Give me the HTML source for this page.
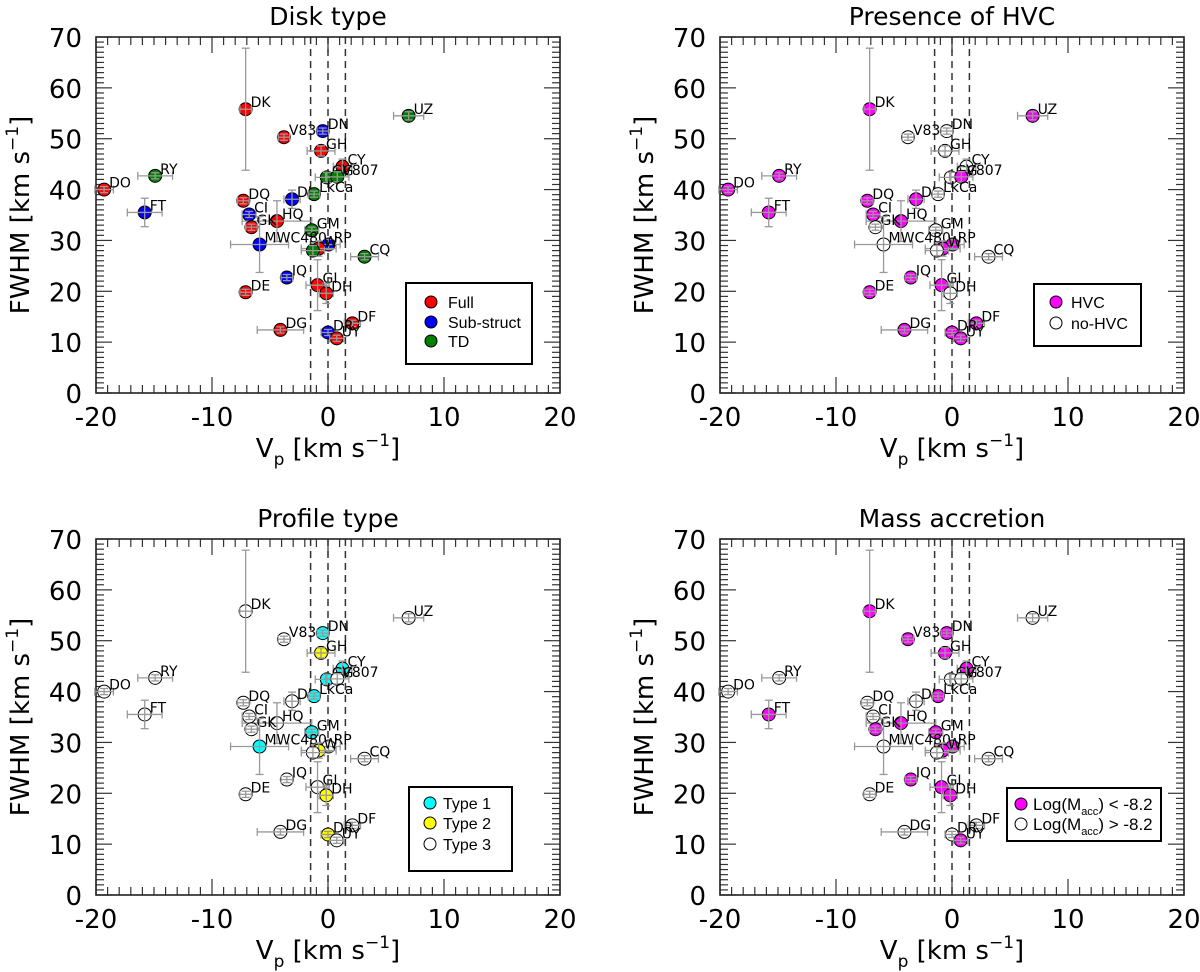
<!DOCTYPE html>
<html><head><meta charset="utf-8"><style>
html,body{margin:0;padding:0;background:#fff;}
svg{display:block;font-family:"DejaVu Sans","Liberation Sans",sans-serif;}
</style></head><body>
<svg id="fig" width="1200" height="972" viewBox="0 0 1200 972" xmlns="http://www.w3.org/2000/svg"></svg>
<script>
const names = ["DK","V836","DN","GH","CY","GG","V807","DO","RY","DQ","DL","LkCa","FT","CI","HQ","GK","GM","MWC480","RP","RW","IP","CQ","IQ","GI","DH","DE","DG","DF","DR","UY","UZ"];
const vp   = [-7.1,-3.8,-0.45,-0.6,1.25,-0.1,0.8,-19.3,-14.9,-7.3,-3.1,-1.2,-15.8,-6.8,-4.4,-6.6,-1.4,-5.9,0.05,-0.8,-1.3,3.15,-3.55,-0.9,-0.15,-7.1,-4.1,2.1,0.0,0.75,6.95];
const fwhm = [55.8,50.3,51.5,47.6,44.5,42.4,42.5,40.0,42.7,37.8,38.1,39.1,35.5,35.1,33.8,32.6,32.0,29.2,29.2,28.4,28.0,26.8,22.7,21.2,19.6,19.8,12.4,13.7,11.9,10.75,54.5];
const xerr = [0.5,0.5,0.5,1.2,0.8,1.0,1.0,0.8,1.5,0.5,0.7,0.5,1.5,0.6,3.0,0.5,0.6,2.5,1.0,1.5,1.0,1.2,0.5,1.0,0.6,0.5,2.0,0.7,0.6,0.6,1.3];
const yerr = [12.0,0.6,0.6,1.0,1.5,1.0,1.0,0.6,0.6,0.6,1.8,0.6,2.8,0.6,4.0,0.6,0.6,5.5,1.0,1.5,1.0,0.6,0.6,5.0,2.0,0.6,0.6,0.6,0.6,0.6,0.8];
// categories per panel
const diskType = ["F","F","S","F","F","T","T","F","T","F","S","T","S","S","F","F","T","S","S","F","T","T","S","F","F","F","F","F","S","F","T"];
const hvc      = [1,0,0,0,0,0,1,1,1,1,1,0,1,1,1,0,0,0,1,1,0,0,1,1,0,1,1,1,1,1,1];
const profile  = [3,3,1,2,1,1,3,3,3,3,3,1,3,3,3,3,1,1,3,2,3,3,3,3,2,3,3,3,2,3,3];
const macc     = [1,1,1,1,1,0,0,0,0,0,0,1,1,0,1,1,1,0,1,1,0,0,1,1,1,0,0,0,0,1,0];
const xTicks = [-20,-10,0,10,20];
const yTicks = [0,10,20,30,40,50,60,70];
const vLines = [-1.5,0,1.5];

const svg = document.getElementById('fig');
const NS = "http://www.w3.org/2000/svg";
function mk(tag, attrs, parent){const e=document.createElementNS(NS,tag);for(const k in attrs)e.setAttribute(k,attrs[k]);(parent||svg).appendChild(e);return e;}

const panels = [
 {title:"Disk type", ox:0, oy:0, colors:i=>({F:"#ff0000",S:"#0000ff",T:"#007f00"})[diskType[i]],
  legend:{x:406,y:283,w:126,h:81,fs:15,mx:431,tx:448,rows:[["#ff0000","Full",302],["#0000ff","Sub-struct",322],["#007f00","TD",341]]}},
 {title:"Presence of HVC", ox:624, oy:0, colors:i=>hvc[i]?"#ff00ff":"#ffffff",
  legend:{x:1034,y:284,w:107,h:62,fs:15,mx:1056,tx:1071,rows:[["#ff00ff","HVC",302],["#ffffff","no-HVC",323]]}},
 {title:"Profile type", ox:0, oy:502, colors:i=>({1:"#00ffff",2:"#ffff00",3:"#ffffff"})[profile[i]],
  legend:{x:409,y:787,w:103,h:84,fs:15,mx:430,tx:443,rows:[["#00ffff","Type 1",803],["#ffff00","Type 2",823],["#ffffff","Type 3",844]]}},
 {title:"Mass accretion", ox:624, oy:502, colors:i=>macc[i]?"#ff00ff":"#ffffff",
  legend:{x:1007,y:788,w:154,h:53,fs:15,mx:1021,tx:1033,macc:true,rows:[["#ff00ff","<",804],["#ffffff",">",824]]}}
];

panels.forEach((p,pi)=>{
  const L=96+p.ox, R=560+p.ox, T=37+p.oy, B=393+p.oy;
  const X=v=>L+(v+20)/40*(R-L);
  const Y=v=>B-v/70*(B-T);
  const g=mk('g',{});
  
  
  const t=mk('text',{x:(L+R)/2,y:T-12,'font-size':25,'text-anchor':'middle'},g);
  t.textContent=p.title;
  
  
  vLines.forEach(v=>{const l=mk('line',{x1:X(v),x2:X(v),y1:T,y2:B,stroke:'#333','stroke-width':1.5,'stroke-dasharray':'7,5'},g);
    
    });
  for(let v=-20;v<=20;v++){const maj=v%10===0;const len=maj?16:8;
    mk('line',{x1:X(v),x2:X(v),y1:B,y2:B-len,stroke:'#333','stroke-width':1.2},g);
    mk('line',{x1:X(v),x2:X(v),y1:T,y2:T+len,stroke:'#333','stroke-width':1.2},g);}
  for(let v=0;v<=70;v++){const maj=v%10===0;const len=maj?16:8;
    mk('line',{x1:L,x2:L+len,y1:Y(v),y2:Y(v),stroke:'#333','stroke-width':1.2},g);
    mk('line',{x1:R,x2:R-len,y1:Y(v),y2:Y(v),stroke:'#333','stroke-width':1.2},g);}
  xTicks.forEach(v=>{const e=mk('text',{x:X(v),y:B+33,'font-size':26,'text-anchor':'middle'},g);e.textContent=v;
    
    });
  yTicks.forEach(v=>{const e=mk('text',{x:L-14,y:Y(v)+10,'font-size':26,'text-anchor':'end'},g);e.textContent=v;
    
    });
  const fr=mk('rect',{x:L,y:T,width:R-L,height:B-T,fill:'none',stroke:'#222','stroke-width':1.6},g);
  
  
  const xl=mk('text',{x:(L+R)/2,y:B+64,'font-size':26,'text-anchor':'middle'},g);
  xl.innerHTML='V<tspan font-size="17" dy="8">p</tspan><tspan dy="-8"> [km s</tspan><tspan font-size="17" dy="-11">−1</tspan><tspan dy="11">]</tspan>';
  
  
  const yl=mk('text',{x:0,y:0,'font-size':26,'text-anchor':'middle',transform:`translate(${29+p.ox},${215+p.oy}) rotate(-90)`},g);
  yl.innerHTML='FWHM [km s<tspan font-size="17" dy="-11">−1</tspan><tspan dy="11">]</tspan>';
  
  
  names.forEach((n,i)=>{
    const cx=X(vp[i]), cy=Y(fwhm[i]);
    const pg=mk('g',{},g);
    
    
    mk('circle',{cx,cy,r:6.5,fill:p.colors(i),stroke:'#000','stroke-width':1},pg);
    const ex1=X(vp[i]-xerr[i]), ex2=X(vp[i]+xerr[i]), ey1=Y(fwhm[i]-yerr[i]), ey2=Y(fwhm[i]+yerr[i]);
    const st={stroke:'#999','stroke-width':1.3};
    mk('line',Object.assign({x1:ex1,x2:ex2,y1:cy,y2:cy},st),pg);
    mk('line',Object.assign({x1:cx,x2:cx,y1:ey1,y2:ey2},st),pg);
    mk('line',Object.assign({x1:ex1,x2:ex1,y1:cy-4,y2:cy+4},st),pg);
    mk('line',Object.assign({x1:ex2,x2:ex2,y1:cy-4,y2:cy+4},st),pg);
    mk('line',Object.assign({x1:cx-4,x2:cx+4,y1:ey1,y2:ey1},st),pg);
    mk('line',Object.assign({x1:cx-4,x2:cx+4,y1:ey2,y2:ey2},st),pg);
    if(n!=="IP"){const lt=mk('text',{x:cx+5,y:cy-2,'font-size':14},pg);lt.textContent=(n==="RW")?"W":n;}
  });
  const lg=p.legend;
  const lgg=mk('g',{},g);
  
  
  mk('rect',{x:lg.x,y:lg.y,width:lg.w,height:lg.h,fill:'#fff',stroke:'#000','stroke-width':2},lgg);
  lg.rows.forEach(r=>{
    const e=mk('g',{},lgg);
    
    
    mk('circle',{cx:lg.mx,cy:r[2],r:6,fill:r[0],stroke:'#000','stroke-width':1},e);
    const tx=mk('text',{x:lg.tx,y:r[2]+6,'font-size':lg.macc?17:16,'font-family':'Liberation Sans, sans-serif'},e);
    if(lg.macc) tx.innerHTML='Log(M<tspan font-size="11" dy="5">acc</tspan><tspan dy="-5">) '+(r[1]==='<'?'&lt;':'&gt;')+' -8.2</tspan>';
    else tx.textContent=r[1];
  });
});
</script>
</body></html>
